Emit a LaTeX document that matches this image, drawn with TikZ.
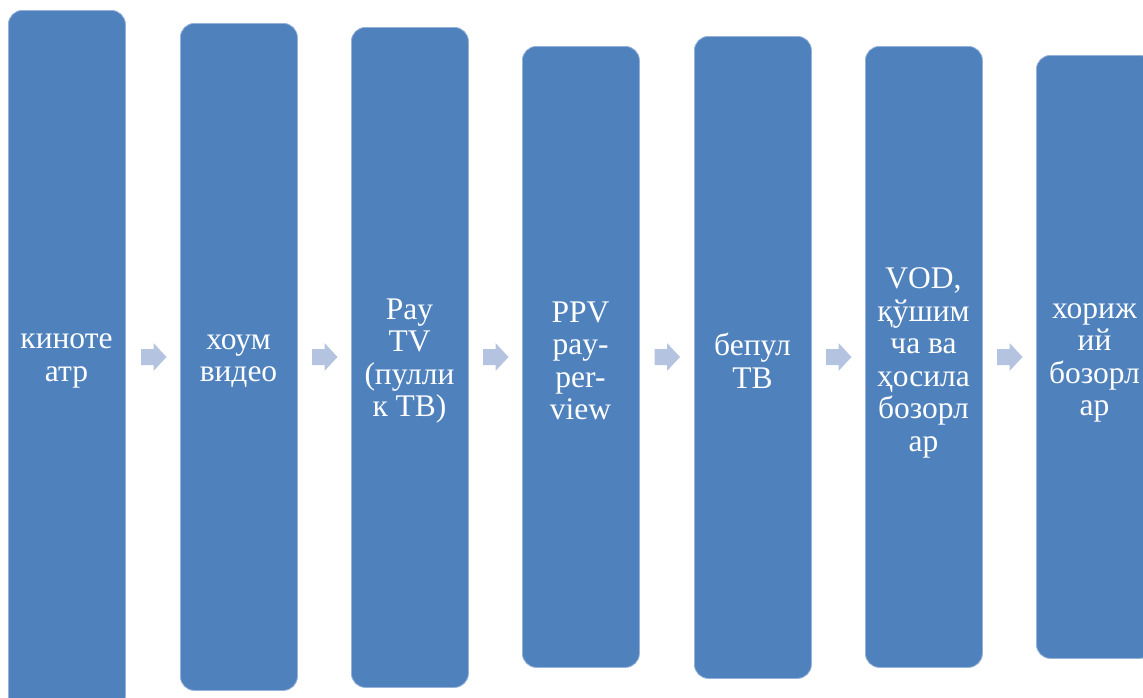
\documentclass[tikz,border=0pt]{standalone}
\usepackage{fontspec}
\setmainfont{Liberation Serif}
\definecolor{boxc}{RGB}{79,129,189}
\definecolor{boxedge}{RGB}{150,178,216}
\definecolor{arrowc}{RGB}{180,196,224}
\tikzset{
  stagebox/.style={fill=boxc, draw=boxedge, line width=0.8pt, rounded corners=14pt,
    minimum width=117pt, inner sep=0pt, anchor=north west},
  stagetext/.style={text=white, align=center, font=\fontsize{31.5}{32.5}\selectfont, inner sep=0pt}
}
\newcommand\flowarrow[1]{\fill[arrowc] (#1) ++(0,-8) -- ++(12.5,0) -- ++(0,-6) -- ++(13,14) -- ++(-13,14) -- ++(0,-6) -- ++(-12.5,0) -- cycle;}
\begin{document}
\begin{tikzpicture}[x=1pt,y=-1pt]
\useasboundingbox (0,0) rectangle (1143,697);
\clip (0,0) rectangle (1143,697);
\node[stagebox, minimum height=700pt] (b1) at (8,10) {};
\node[stagebox, minimum height=667pt] (b2) at (180,23) {};
\node[stagebox, minimum height=660pt] (b3) at (351,27) {};
\node[stagebox, minimum height=621pt] (b4) at (522,46) {};
\node[stagebox, minimum height=642pt] (b5) at (694,36) {};
\node[stagebox, minimum height=621pt] (b6) at (865,46) {};
\node[stagebox, minimum height=603pt] (b7) at (1036,55) {};
\node[stagetext] (t1) at (66.5,361) {киноте\\атр};
\node[stagetext] (t2) at (238.5,361) {хоум\\видео};
\node[stagetext] (t3) at (409.5,361) {Pay\\TV\\(пулли\\к ТВ)};
\node[stagetext] (t4) at (580.5,361) {PPV\\pay-\\per-\\view};
\node[stagetext] (t5) at (752.5,361) {бепул\\ТВ};
\node[stagetext] (t6) at (923.5,363) {VOD,\\қўшим\\ча ва\\ҳосила\\бозорл\\ар};
\node[stagetext] (t7) at (1094.5,363) {хориж\\ий\\бозорл\\ар};
\coordinate (a1) at (141,357);
\coordinate (a2) at (312,357);
\coordinate (a3) at (483,357);
\coordinate (a4) at (654.5,357);
\coordinate (a5) at (826,357);
\coordinate (a6) at (997,357);
\flowarrow{a1}
\flowarrow{a2}
\flowarrow{a3}
\flowarrow{a4}
\flowarrow{a5}
\flowarrow{a6}
\end{tikzpicture}
\end{document}
